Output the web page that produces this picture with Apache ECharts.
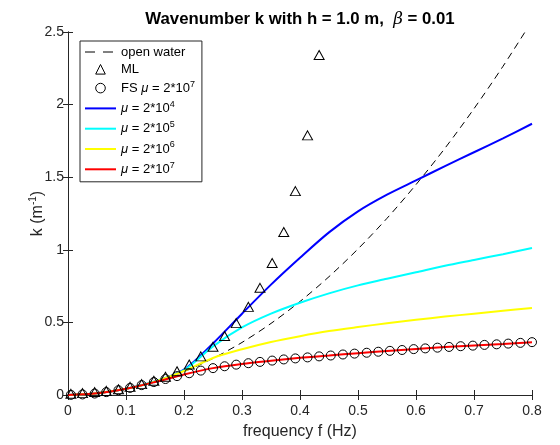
<!DOCTYPE html>
<html>
<head>
<meta charset="utf-8">
<script src="https://cdn.jsdelivr.net/npm/echarts@6/dist/echarts.min.js"></script>
<style>
html,body{margin:0;padding:0;background:#fff;}
#chart{width:560px;height:445px;}
</style>
</head>
<body>
<div id="chart"></div>
<script>
// Curve frequencies (Hz)
const freq = [0,0.05,0.1,0.15,0.2,0.25,0.3,0.35,0.4,0.45,0.5,0.55,0.6,0.65,0.7,0.75,0.8];
// Open water (dashed)
const openWater = [0,0.010,0.040,0.091,0.161,0.252,0.362,0.493,0.644,0.815,1.006,1.217,1.449,1.700,1.972,2.264,2.576];
// mu = 2*10^4 (blue)
const mu4 = [0,0.012,0.043,0.093,0.175,0.355,0.56,0.76,0.945,1.12,1.265,1.38,1.478,1.576,1.672,1.768,1.868];
// mu = 2*10^5 (cyan)
const mu5 = [0,0.012,0.043,0.093,0.172,0.335,0.465,0.56,0.635,0.70,0.755,0.80,0.845,0.89,0.93,0.97,1.012];
// mu = 2*10^6 (yellow)
const mu6 = [0,0.012,0.043,0.092,0.165,0.255,0.315,0.365,0.405,0.44,0.468,0.494,0.518,0.54,0.56,0.58,0.60];
// mu = 2*10^7 (red)
const mu7 = [0,0.012,0.043,0.089,0.141,0.185,0.214,0.236,0.256,0.272,0.288,0.303,0.317,0.330,0.341,0.352,0.364];

// Marker frequencies
const markerFreq = [0.005,0.025,0.046,0.066,0.087,0.107,0.127,0.148,0.168,0.188,0.209,0.229,0.250,0.270,0.290,0.311,0.331,0.352,0.372,0.392,0.413,0.433,0.453,0.474,0.494,0.515,0.535,0.555,0.576,0.596,0.616,0.637,0.657,0.677,0.698,0.718,0.739,0.759,0.780,0.800];
// ML (triangles), first 22 marker frequencies
const mlK = [0.008,0.013,0.020,0.028,0.040,0.056,0.075,0.098,0.126,0.163,0.210,0.266,0.332,0.406,0.495,0.607,0.738,0.909,1.122,1.404,1.788,2.342];
// FS mu = 2*10^7 (circles)
const fsK = [0.001,0.004,0.010,0.020,0.033,0.049,0.068,0.089,0.110,0.130,0.150,0.168,0.185,0.198,0.209,0.219,0.228,0.237,0.245,0.252,0.259,0.266,0.272,0.279,0.285,0.291,0.298,0.304,0.310,0.316,0.321,0.326,0.331,0.336,0.340,0.345,0.349,0.354,0.359,0.364];

const xTicks = {min:0, max:0.8, interval:0.1};
const yTicks = {min:0, max:2.5, interval:0.5};

function pairs(xs, ys){ return ys.map((y,i)=>[xs[i], y]); }

const FONT = 'Liberation Sans, Arial, Helvetica, sans-serif';
const AX = '#262626';

const legendLabels = {
  'open water': 'open water',
  'ML': 'ML',
  'FS': 'FS {i|μ} = 2*10{s|7}',
  'mu4': '{i|μ} = 2*10{s|4}',
  'mu5': '{i|μ} = 2*10{s|5}',
  'mu6': '{i|μ} = 2*10{s|6}',
  'mu7': '{i|μ} = 2*10{s|7}'
};

const richSup = {
  i: {fontStyle:'italic', fontSize:13, fontFamily: FONT, color:'#000', lineHeight:14},
  s: {fontSize:9, fontFamily: FONT, color:'#000', lineHeight:9, padding:[0,0,8,0]}
};

const chart = echarts.init(document.getElementById('chart'), null, {renderer:'canvas'});

function lineSeries(name, data, color, extra){
  return Object.assign({
    name: name, type:'line', data: pairs(freq, data), smooth: 0.3,
    symbol:'none', showSymbol:false,
    lineStyle:{color: color, width: 2}, itemStyle:{color: color},
    clip:true
  }, extra || {});
}

function markerSeries(name, xs, ys, symbol, size){
  return {
    name: name, type:'line', data: pairs(xs, ys),
    symbol: symbol, symbolSize: size, showSymbol:true, showAllSymbol:true,
    lineStyle:{width:0, opacity:0},
    itemStyle:{color:'rgba(255,255,255,0)', borderColor:'#000', borderWidth:1},
    clip:true
  };
}

const hidden = {opacity:0};
const hollow = {color:'rgba(255,255,255,0)', borderColor:'#000', borderWidth:1};

const option = {
  animation:false,
  backgroundColor:'#fff',
  title:{
    text:'Wavenumber k with h = 1.0 m,  {b|β} = 0.01',
    left: 295, top: 6, textAlign:'center',
    textStyle:{fontFamily: FONT, fontSize:16.8, fontWeight:'bold', color:'#000',
      rich:{b:{fontFamily:'DejaVu Serif, serif', fontStyle:'italic', fontWeight:'normal', fontSize:16.8, color:'#000'}}}
  },
  grid:{left:68, right:28, top:32, bottom:49.5, show:false},
  legend:{
    orient:'vertical', left:80, top:41,
    padding:[4,7,4,4], itemGap:3.3,
    itemWidth:31, itemHeight:12,
    borderColor: AX, borderWidth:1, backgroundColor:'#fff',
    selectedMode:false,
    data:[
      {name:'open water', itemStyle:hidden, lineStyle:{width:1, type:[10,8], color:'#000'}},
      {name:'ML', itemStyle:hollow},
      {name:'FS', itemStyle:hollow},
      {name:'mu4', itemStyle:hidden},
      {name:'mu5', itemStyle:hidden},
      {name:'mu6', itemStyle:hidden},
      {name:'mu7', itemStyle:hidden}
    ],
    formatter: n => legendLabels[n],
    textStyle:{fontFamily: FONT, fontSize:13, color:'#000', lineHeight:14, rich: richSup}
  },
  xAxis:[{
    type:'value', position:'bottom', min:xTicks.min, max:xTicks.max, interval:xTicks.interval,
    axisLine:{show:true, lineStyle:{color:AX, width:1}},
    axisTick:{show:true, inside:true, length:5, lineStyle:{color:AX}},
    axisLabel:{fontFamily: FONT, fontSize:14, color:AX, margin:9,
      formatter: v => (v===0 ? '0' : v.toFixed(1))},
    splitLine:{show:false},
    name:'frequency f (Hz)', nameLocation:'middle', nameGap:29, nameMoveOverlap:false,
    nameTextStyle:{fontFamily: FONT, fontSize:16, color:AX}
  },{
    type:'value', position:'top', min:xTicks.min, max:xTicks.max, interval:xTicks.interval,
    axisLine:{show:true, lineStyle:{color:AX, width:1}},
    axisTick:{show:true, inside:true, length:5, lineStyle:{color:AX}},
    axisLabel:{show:false}, splitLine:{show:false}
  }],
  yAxis:[{
    type:'value', position:'left', min:yTicks.min, max:yTicks.max, interval:yTicks.interval,
    axisLine:{show:true, lineStyle:{color:AX, width:1}},
    axisTick:{show:true, inside:true, length:5, lineStyle:{color:AX}},
    axisLabel:{fontFamily: FONT, fontSize:14, color:AX, margin:4},
    splitLine:{show:false},
    name:'k (m{s|-1})', nameLocation:'middle', nameGap:22, nameMoveOverlap:false,
    nameTextStyle:{fontFamily: FONT, fontSize:16, color:AX, lineHeight:16,
      rich:{s:{fontFamily: FONT, fontSize:10, color:AX, lineHeight:10, padding:[0,0,9,0]}}}
  },{
    type:'value', position:'right', min:yTicks.min, max:yTicks.max, interval:yTicks.interval,
    axisLine:{show:true, lineStyle:{color:AX, width:1}},
    axisTick:{show:true, inside:true, length:5, lineStyle:{color:AX}},
    axisLabel:{show:false}, splitLine:{show:false}
  }],
  series:[
    lineSeries('open water', openWater, '#000', {lineStyle:{color:'#000', width:1, type:[7,5]}, smooth:0.3}),
    markerSeries('ML', markerFreq, mlK, 'triangle', [10,9]),
    markerSeries('FS', markerFreq, fsK, 'circle', 9),
    lineSeries('mu4', mu4, '#0000FF'),
    lineSeries('mu5', mu5, '#00FFFF'),
    lineSeries('mu6', mu6, '#FFFF00'),
    lineSeries('mu7', mu7, '#FF0000')
  ]
};
chart.setOption(option);
</script>
</body>
</html>
